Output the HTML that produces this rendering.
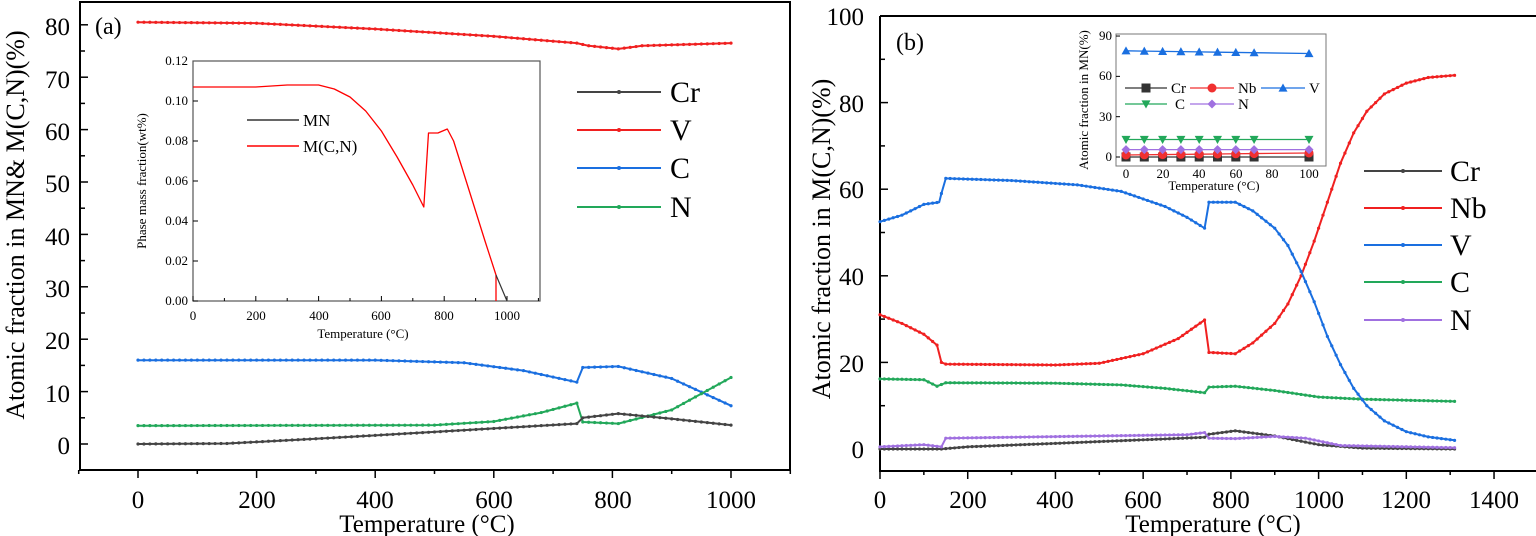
<!DOCTYPE html>
<html><head><meta charset="utf-8"><style>
html,body{margin:0;padding:0;background:#fff;font-family:"Liberation Serif","Tinos","Times New Roman","DejaVu Serif","Noto Serif CJK SC",serif;}
svg{display:block;}
svg text{font-family:"Liberation Serif","Tinos","Times New Roman","DejaVu Serif","Noto Serif CJK SC",serif;}
</style></head><body>
<svg id="s" width="1536" height="536" viewBox="0 0 1536 536" xmlns="http://www.w3.org/2000/svg">
<rect width="1536" height="536" fill="#fff"/>
<rect x="193" y="61" width="347" height="240" fill="#fff" stroke="#555" stroke-width="1.2"/>
<rect x="1116" y="34" width="210" height="132" fill="#fff" stroke="#777" stroke-width="1"/>
<rect x="80" y="2" width="710" height="468" fill="none" stroke="#000" stroke-width="2"/>
<path d="M880,16 H1536 M880,16 V471 H1536" fill="none" stroke="#000" stroke-width="2"/>
<g id="ticks" stroke="#000" stroke-width="1.5"></g>
<g id="curves" fill="none" stroke-linejoin="round"></g>

<g font-size="25" text-anchor="end">
<text x="70" y="35">80</text><text x="70" y="88">70</text><text x="70" y="140">60</text>
<text x="70" y="192">50</text><text x="70" y="245">40</text><text x="70" y="297">30</text>
<text x="70" y="349">20</text><text x="70" y="402">10</text><text x="70" y="454">0</text>
</g>
<g font-size="25" text-anchor="middle">
<text x="138" y="508">0</text><text x="257" y="508">200</text><text x="375" y="508">400</text>
<text x="494" y="508">600</text><text x="613" y="508">800</text><text x="731" y="508">1000</text>
<text x="427" y="532">Temperature (°C)</text>
</g>
<text transform="translate(24,225) rotate(-90)" font-size="26" text-anchor="middle">Atomic fraction in MN&amp; M(C,N)(%)</text>
<text x="95" y="34" font-size="24">(a)</text>
<g font-size="30">
<text x="670" y="102">Cr</text><text x="670" y="140">V</text><text x="670" y="178">C</text><text x="670" y="217">N</text>
</g>
<g font-size="13" text-anchor="end">
<text x="188" y="65">0.12</text><text x="188" y="105">0.10</text><text x="188" y="145">0.08</text>
<text x="188" y="185">0.06</text><text x="188" y="225">0.04</text><text x="188" y="265">0.02</text><text x="188" y="305">0.00</text>
</g>
<g font-size="13" text-anchor="middle">
<text x="193" y="320">0</text><text x="256" y="320">200</text><text x="319" y="320">400</text>
<text x="381" y="320">600</text><text x="444" y="320">800</text><text x="507" y="320">1000</text>
<text x="363" y="338">Temperature (°C)</text>
</g>
<text transform="translate(146,181) rotate(-90)" font-size="13" text-anchor="middle">Phase  mass fraction(wt%)</text>
<line x1="247" y1="120" x2="299" y2="120" stroke="#333" stroke-width="1.5"/>
<line x1="247" y1="146" x2="299" y2="146" stroke="#f00" stroke-width="1.5"/>
<g font-size="17"><text x="303" y="126">MN</text><text x="303" y="152">M(C,N)</text></g>

<g font-size="25" text-anchor="end">
<text x="864" y="25">100</text><text x="864" y="112">80</text><text x="864" y="198">60</text>
<text x="864" y="285">40</text><text x="864" y="372">20</text><text x="864" y="458">0</text>
</g>
<g font-size="25" text-anchor="middle">
<text x="880" y="508">0</text><text x="968" y="508">200</text><text x="1055" y="508">400</text>
<text x="1143" y="508">600</text><text x="1231" y="508">800</text><text x="1319" y="508">1000</text>
<text x="1406" y="508">1200</text><text x="1494" y="508">1400</text>
<text x="1213" y="532">Temperature (°C)</text>
</g>
<text transform="translate(830,239) rotate(-90)" font-size="26" text-anchor="middle">Atomic fraction in M(C,N)(%)</text>
<text x="896" y="50" font-size="24">(b)</text>
<g font-size="30">
<text x="1450" y="181">Cr</text><text x="1450" y="218">Nb</text><text x="1450" y="255">V</text><text x="1450" y="292">C</text><text x="1450" y="330">N</text>
</g>
<g font-size="13" text-anchor="end">
<text x="1112" y="40">90</text><text x="1112" y="80">60</text><text x="1112" y="121">30</text><text x="1112" y="161">0</text>
</g>
<g font-size="13" text-anchor="middle">
<text x="1126" y="178">0</text><text x="1163" y="178">20</text><text x="1199" y="178">40</text>
<text x="1236" y="178">60</text><text x="1272" y="178">80</text><text x="1309" y="178">100</text>
<text x="1214" y="190">Temperature (°C)</text>
</g>
<text transform="translate(1088,100) rotate(-90)" font-size="13" text-anchor="middle">Atomic fraction in MN(%)</text>
<g font-size="15">
<text x="1171" y="93">Cr</text><text x="1238" y="93">Nb</text><text x="1309" y="93">V</text>
<text x="1175" y="109">C</text><text x="1238" y="109">N</text>
</g>
<g id="inb"></g>
</svg>
<script>
const NS="http://www.w3.org/2000/svg";
function el(p,t,a){const e=document.createElementNS(NS,t);for(const k in a)e.setAttribute(k,a[k]);p.appendChild(e);return e;}
const cv=document.getElementById('curves'),tk=document.getElementById('ticks'),ib=document.getElementById('inb');
function line(pts,X,Y,col,w){el(cv,'polyline',{points:pts.map(p=>X(p[0]).toFixed(1)+','+Y(p[1]).toFixed(1)).join(' '),stroke:col,'stroke-width':w});}
function interp(pts,t){for(let i=1;i<pts.length;i++){if(t<=pts[i][0]){const a=pts[i-1],b=pts[i];const f=b[0]==a[0]?1:(t-a[0])/(b[0]-a[0]);return a[1]+f*(b[1]-a[1]);}}return pts[pts.length-1][1];}
function dots(pts,X,Y,col,step){for(let t=pts[0][0];t<=pts[pts.length-1][0];t+=step){el(cv,'circle',{cx:X(t),cy:Y(interp(pts,t)),r:1.6,fill:col,stroke:'none'});}}
const BLK='#444',RED='#f02020',BLU='#1a6fe0',GRN='#22a85a',PUR='#a070e0';
let XA=t=>138+t*0.593,YA=v=>444-v*5.24;
const A={
V:[[0,80.5],[200,80.3],[400,79.2],[600,77.8],[740,76.5],[760,76],[810,75.4],[850,76],[1000,76.5]],
C:[[0,16],[400,16],[550,15.5],[650,14],[740,11.8],[750,14.6],[810,14.8],[900,12.5],[1000,7.3]],
N:[[0,3.5],[500,3.6],[600,4.3],[680,6],[740,7.8],[750,4.2],[810,3.9],[900,6.5],[1000,12.7]],
Cr:[[0,0],[150,0.1],[300,1],[500,2.3],[740,3.9],[750,5],[810,5.8],[900,4.8],[1000,3.6]]};
const cA={V:RED,C:BLU,N:GRN,Cr:BLK};
for(const k in A){line(A[k],XA,YA,cA[k],2);dots(A[k],XA,YA,cA[k],10);}
[[92,BLK],[130,RED],[168,BLU],[207,GRN]].forEach(([y,c])=>{el(cv,'line',{x1:577,y1:y,x2:661,y2:y,stroke:c,'stroke-width':2});el(cv,'circle',{cx:619,cy:y,r:2,fill:c});});
for(let v=0;v<=80;v+=10){el(tk,'line',{x1:80,y1:YA(v),x2:88,y2:YA(v)});}
for(let v=5;v<=85;v+=10){el(tk,'line',{x1:80,y1:YA(v),x2:85,y2:YA(v)});}
for(let t=-100;t<=1100;t+=100){el(tk,'line',{x1:XA(t),y1:470,x2:XA(t),y2:t%200==0?478:474});}
let XI=t=>193+t*0.314,YI=v=>301-v*2000;
line([[0,0.107],[200,0.107],[300,0.108],[400,0.108],[450,0.106],[500,0.102],[550,0.095],[600,0.085],[650,0.072],[700,0.058],[735,0.047],[750,0.084],[780,0.084],[810,0.086],[830,0.08],[880,0.055],[930,0.03],[965,0.013],[965,0]],XI,YI,'#f00',1.3);
line([[965,0.013],[1000,0]],XI,YI,'#333',1.2);
for(let v=0;v<=0.12;v+=0.02){el(tk,'line',{x1:193,y1:YI(v),x2:198,y2:YI(v),'stroke-width':1});}
for(let t=0;t<=1100;t+=100){el(tk,'line',{x1:XI(t),y1:301,x2:XI(t),y2:t%200==0?296:298,'stroke-width':1});}
let XB=t=>880+t*0.4386,YB=v=>449-v*4.33;
const B={
V:[[0,52.5],[50,54],[100,56.5],[135,57],[140,59],[150,62.5],[300,62],[450,61],[550,59.5],[650,56],[700,53.5],[740,51],[750,57],[810,57],[850,55],[900,51],[930,47],[960,41],[990,34],[1020,26],[1050,19.5],[1080,14],[1110,10],[1150,6.5],[1200,4],[1250,2.8],[1310,2]],
Nb:[[0,31],[50,29],[100,26.5],[130,24],[140,20],[150,19.6],[400,19.4],[500,19.8],[600,22],[680,25.5],[740,29.8],[750,22.3],[810,22],[850,24.5],[900,29],[930,33.5],[960,40],[990,48],[1020,57],[1050,66],[1080,73],[1110,78],[1150,82],[1200,84.5],[1250,85.8],[1310,86.3]],
C:[[0,16.2],[100,16],[130,14.5],[150,15.3],[400,15.2],[550,14.8],[650,14],[740,13],[750,14.3],[810,14.5],[900,13.5],[1000,12],[1100,11.5],[1310,11]],
N:[[0,0.5],[100,1],[140,0.5],[150,2.5],[700,3.3],[740,3.8],[750,2.5],[810,2.4],[900,2.9],[970,2.5],[1050,0.8],[1310,0.3]],
Cr:[[0,0],[140,0],[200,0.5],[400,1.3],[740,2.7],[750,3.4],[810,4.2],[900,3],[1000,1],[1100,0.2],[1310,0]]};
const cB={Cr:BLK,N:PUR,C:GRN,Nb:RED,V:BLU};
for(const k of ['Cr','N','C','Nb','V']){line(B[k],XB,YB,cB[k],2);dots(B[k],XB,YB,cB[k],10);}
[[171,BLK],[208,RED],[245,BLU],[282,GRN],[320,PUR]].forEach(([y,c])=>{el(cv,'line',{x1:1364,y1:y,x2:1442,y2:y,stroke:c,'stroke-width':2});el(cv,'circle',{cx:1403,cy:y,r:2,fill:c});});
for(let v=0;v<=100;v+=20){el(tk,'line',{x1:880,y1:YB(v),x2:888,y2:YB(v)});}
for(let v=10;v<=90;v+=20){el(tk,'line',{x1:880,y1:YB(v),x2:885,y2:YB(v)});}
for(let t=0;t<=1500;t+=100){el(tk,'line',{x1:XB(t),y1:471,x2:XB(t),y2:t%200==0?479:475});}
let XJ=t=>1126+t*1.83,YJ=v=>157-v*1.344;
for(let v=0;v<=90;v+=30){el(tk,'line',{x1:1116,y1:YJ(v),x2:1120,y2:YJ(v),'stroke-width':1});}
const ts=[0,10,20,30,40,50,60,70,100];
function mk(type,x,y,c,s){
 if(type=='sq')el(ib,'rect',{x:x-s,y:y-s,width:2*s,height:2*s,fill:c});
 else if(type=='ci')el(ib,'circle',{cx:x,cy:y,r:s,fill:c});
 else if(type=='up')el(ib,'polygon',{points:`${x},${y-s} ${x-s},${y+s*0.8} ${x+s},${y+s*0.8}`,fill:c});
 else if(type=='dn')el(ib,'polygon',{points:`${x},${y+s} ${x-s},${y-s*0.8} ${x+s},${y-s*0.8}`,fill:c});
 else el(ib,'polygon',{points:`${x},${y-s} ${x+s},${y} ${x},${y+s} ${x-s},${y}`,fill:c});}
const IS=[['sq','#333',t=>0],['ci','#f03030',t=>1.5+t*0.015],['up',BLU,t=>79-t*0.02],['dn',GRN,t=>13],['di',PUR,t=>5.5]];
IS.forEach(([ty,c,f])=>{el(ib,'polyline',{points:ts.map(t=>XJ(t)+','+YJ(f(t))).join(' '),fill:'none',stroke:c,'stroke-width':1.3});ts.forEach(t=>mk(ty,XJ(t),YJ(f(t)),c,4.5));});
[[1125,1167,88,'sq','#333'],[1190,1234,88,'ci','#f03030'],[1261,1305,88,'up',BLU],[1125,1167,104,'dn',GRN],[1190,1234,104,'di',PUR]].forEach(([a,b,y,ty,c])=>{el(ib,'line',{x1:a,y1:y,x2:b,y2:y,stroke:c,'stroke-width':1.3});mk(ty,(a+b)/2,y,c,4.5);});
</script>
</body></html>
